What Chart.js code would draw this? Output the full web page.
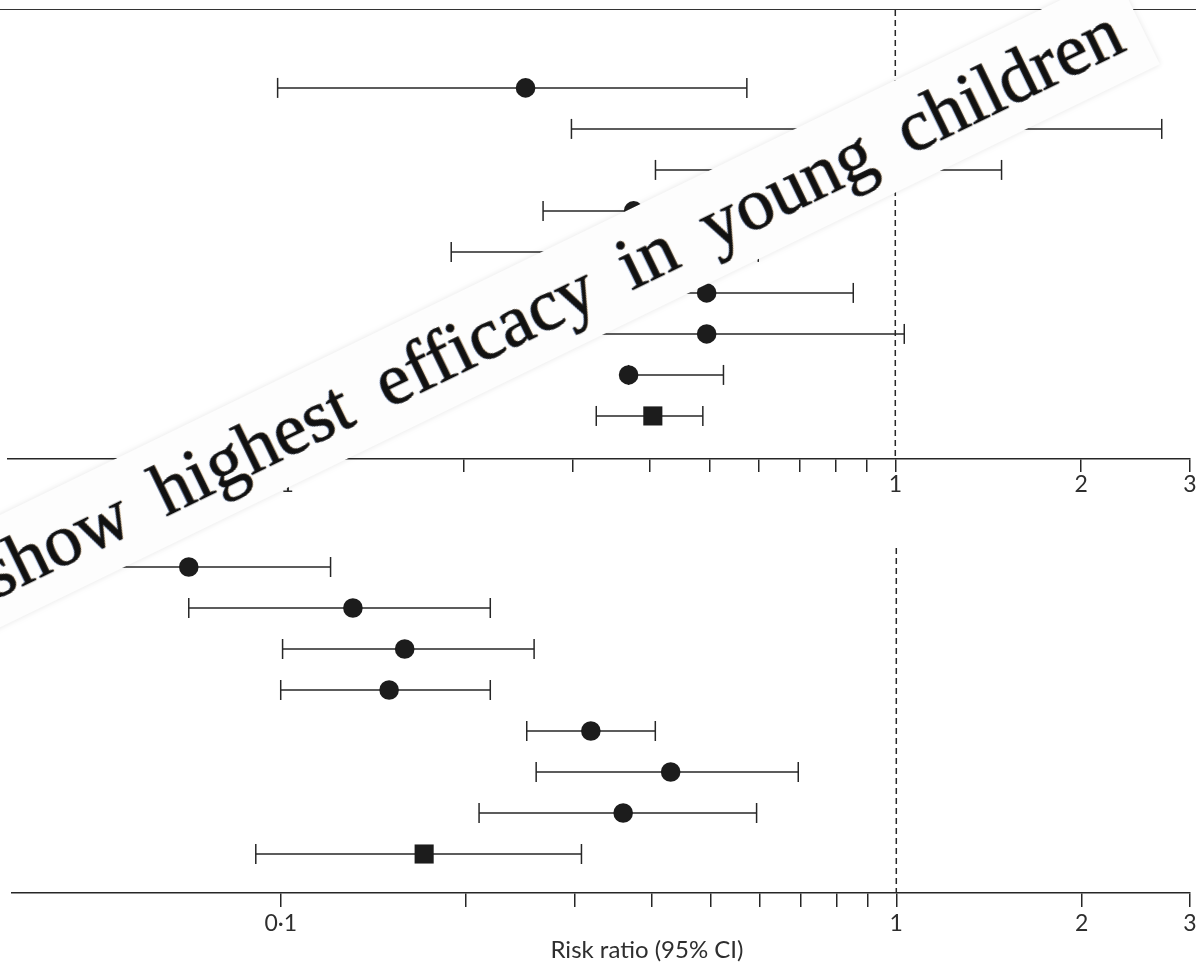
<!DOCTYPE html>
<html>
<head>
<meta charset="utf-8">
<script src="https://cdn.jsdelivr.net/npm/chart.js@4.4.1/dist/chart.umd.min.js"></script>
<style>
  html, body { margin: 0; padding: 0; background: #fff; }
  body { width: 1196px; height: 963px; position: relative; overflow: hidden; }
  .panel { position: absolute; left: 0; width: 1196px; }
  #topRule { position: absolute; left: 0; top: 9px; width: 1196px; height: 0; border-top: 1.5px solid #333; }
  #xTitle { position: absolute; left: 0; width: 1294px; top: 934px; text-align: center;
            font: 24px Lato, sans-serif; color: #2e2e2e; line-height: 30px; }
  #banner { position: absolute; width: 1400px; height: 101px; left: -192px; top: 274px;
            transform: rotate(-25.9deg); background: #fdfdfd;
            box-shadow: 0 0 6px rgba(0,0,0,0.10);
            font: 74px "Liberation Serif", serif; color: #111; line-height: 98px;
            text-align: right; box-sizing: border-box; padding-right: 22px;
            white-space: nowrap; word-spacing: 15px;
            -webkit-text-stroke: 0.7px #111;
            text-shadow: -1px 0 rgba(20,80,190,0.45), 1px 0 rgba(200,130,40,0.45); }
</style>
</head>
<body>
<div id="topRule"></div>
<div class="panel" style="top:0;height:500px"><canvas id="chartTop" width="1196" height="500"></canvas></div>
<div class="panel" style="top:500px;height:463px"><canvas id="chartBottom" width="1196" height="463"></canvas></div>
<div id="xTitle">Risk ratio (95% CI)</div>
<div id="banner">show highest efficacy in young children</div>
<script>
// risk ratios (rows top to bottom, last row = pooled)
const topEst = [0.252, 0.90, 0.78, 0.377, 0.33, 0.495, 0.495, 0.370, 0.405];
const topLo  = [0.100, 0.299, 0.409, 0.269, 0.191, 0.28, 0.24, 0.370, 0.328];
const topHi  = [0.575, 2.70, 1.486, 0.55, 0.60, 0.855, 1.034, 0.527, 0.488];

const botEst = [0.0709, 0.131, 0.159, 0.150, 0.319, 0.430, 0.360, 0.171];
const botLo  = [0.045, 0.0709, 0.1007, 0.100, 0.251, 0.260, 0.210, 0.0911];
const botHi  = [0.1205, 0.219, 0.258, 0.219, 0.406, 0.693, 0.593, 0.308];

const tickValues = [0.1, 0.2, 0.3, 0.4, 0.5, 0.6, 0.7, 0.8, 0.9, 1, 2, 3];
const tickLabels = { 0.1: "0·1", 1: "1", 2: "2", 3: "3" };

const INK = "#262626";

function buildDatasets(est, lo, hi, yMin, yMax) {
  const pooled = est.length - 1;
  const sets = est.map((_, i) => ({
    data: [{ x: lo[i], y: i }, { x: hi[i], y: i }],
    showLine: true,
    borderColor: INK,
    borderWidth: 1.5,
    pointStyle: "line",
    rotation: 90,
    pointRadius: 10,
    pointBorderWidth: 1.5,
    pointBorderColor: INK,
    order: 2
  }));
  sets.push({
    data: est.map((v, i) => ({ x: v, y: i })),
    pointStyle: est.map((_, i) => (i === pooled ? "rect" : "circle")),
    pointRadius: est.map((_, i) => (i === pooled ? 13.5 : 9.8)),
    backgroundColor: "#1c1c1c",
    borderWidth: 0,
    order: 0
  });
  // line of no effect
  sets.push({
    data: [{ x: 1, y: yMin }, { x: 1, y: yMax }],
    showLine: true,
    borderColor: INK,
    borderWidth: 1.5,
    borderDash: [6, 4],
    pointRadius: 0,
    order: 3
  });
  return sets;
}

function makeChart(id, est, lo, hi, yMin, yMax, padding, axisHeight, tickLen, labelPad) {
  return new Chart(document.getElementById(id), {
    type: "scatter",
    data: { datasets: buildDatasets(est, lo, hi, yMin, yMax) },
    options: {
      responsive: false,
      animation: false,
      events: [],
      layout: { padding, autoPadding: false },
      plugins: { legend: { display: false }, tooltip: { enabled: false } },
      scales: {
        x: {
          type: "logarithmic",
          min: 0.0366,
          max: 3,
          afterBuildTicks: (s) => { s.ticks = tickValues.map((v) => ({ value: v })); },
          afterFit: (s) => { s.paddingLeft = 0; s.paddingRight = 0; s.height = axisHeight; },
          border: { display: true, color: INK, width: 1.5 },
          grid: { drawOnChartArea: false, drawTicks: true, tickLength: tickLen, color: INK, lineWidth: 1.5 },
          ticks: {
            autoSkip: false,
            maxRotation: 0,
            padding: labelPad,
            color: "#2e2e2e",
            font: { family: "Lato", size: 23 },
            callback: (v) => tickLabels[v] || ""
          }
        },
        y: { type: "linear", display: false, reverse: true, min: yMin, max: yMax }
      }
    }
  });
}

makeChart("chartTop", topEst, topLo, topHi, -1.9, 9.05, { top: 10, left: 8, right: 6, bottom: 0 }, 41, 13, -1);
makeChart("chartBottom", botEst, botLo, botHi, -0.463, 7.951, { top: 48, left: 12, right: 6, bottom: 0 }, 70, 14, 3);
</script>
</body>
</html>
